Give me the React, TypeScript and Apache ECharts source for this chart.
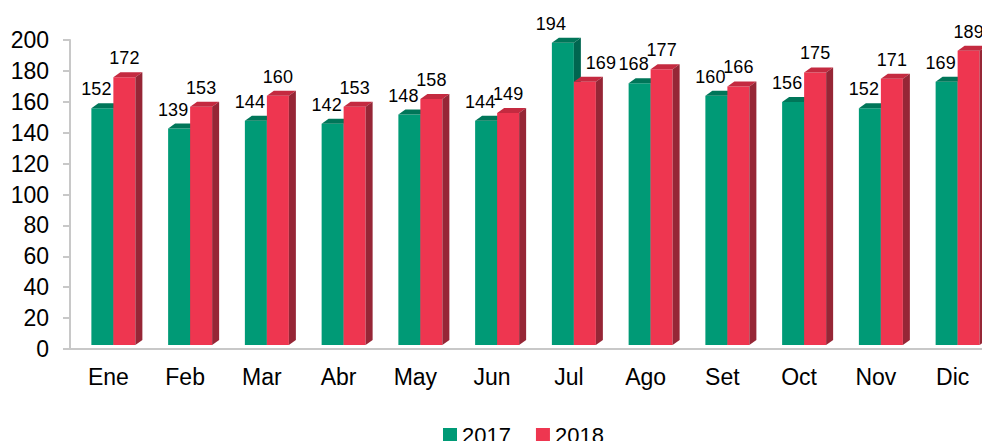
import React, { useEffect, useRef } from "react";
import * as echarts from "echarts";

const months = ["Ene", "Feb", "Mar", "Abr", "May", "Jun", "Jul", "Ago", "Set", "Oct", "Nov", "Dic"];
const values2017 = [152, 139, 144, 142, 148, 144, 194, 168, 160, 156, 152, 169];
const values2018 = [172, 153, 160, 153, 158, 149, 169, 177, 166, 175, 171, 189];
const seriesNames = ["2017", "2018"];

const FONT = "'Liberation Sans', Arial, sans-serif";
const PAL = [
  { front: "#009A76", top: "#007659", side: "#006650" },
  { front: "#EE3650", top: "#C42A40", side: "#962636" },
];

function makeRender(si: number) {
  return (params: any, api: any) => {
    const idx = api.value(0);
    const v = api.value(1);
    const base = api.coord([idx, 0]);
    const tp = api.coord([idx, v]);
    const cx = base[0];
    const w = 22;
    const dx = 7;
    const dy = -5;
    const x0 = cx + (si === 0 ? -17 : 5);
    const x1 = x0 + w;
    const yb = base[1] - 4;
    const yt = yb - (base[1] - tp[1]) * 1.008;
    const c = PAL[si];
    const greenTaller = values2017[idx] > values2018[idx];
    let lx = x0 + w / 2 + (si === 0 ? -6 : 0);
    if (greenTaller) lx = x0 + w / 2 + (si === 0 ? -12 : 16);
    return {
      type: "group",
      children: [
        {
          type: "polygon",
          shape: { points: [[x0, yb], [x1, yb], [x1, yt], [x0, yt]] },
          style: { fill: c.front },
        },
        {
          type: "polygon",
          shape: { points: [[x0, yt], [x1, yt], [x1 + dx, yt + dy], [x0 + dx, yt + dy]] },
          style: { fill: c.top },
        },
        {
          type: "polygon",
          shape: { points: [[x1, yb], [x1 + dx, yb + dy], [x1 + dx, yt + dy], [x1, yt]] },
          style: { fill: c.side },
        },
        {
          type: "text",
          x: lx,
          y: yt - 19,
          style: {
            text: String(v),
            fill: "#000",
            font: `18px ${FONT}`,
            align: "center",
            verticalAlign: "middle",
          },
        },
      ],
    };
  };
}

export default function App() {
  const ref = useRef<HTMLDivElement>(null);
  useEffect(() => {
    if (!ref.current) return;
    const chart = echarts.init(ref.current, undefined, { renderer: "svg" });
    const mk = (si: number, vals: number[]) => ({
      type: "custom",
      name: seriesNames[si],
      renderItem: makeRender(si),
      encode: { x: 0, y: 1 },
      data: vals.map((v, i) => [i, v]),
      itemStyle: { color: PAL[si].front },
      clip: false,
    });
    chart.setOption({
      animation: false,
      color: [PAL[0].front, PAL[1].front],
      textStyle: { fontFamily: FONT },
      grid: { left: 70, top: 40, width: 921, height: 309, containLabel: false, outerBoundsMode: "none" },
      legend: {
        left: 438,
        top: 419,
        icon: "rect",
        itemWidth: 14,
        itemHeight: 14,
        itemGap: 25,
        textStyle: { fontSize: 22, color: "#000", fontFamily: FONT },
        data: seriesNames,
      },
      xAxis: {
        type: "category",
        data: months,
        axisLine: { lineStyle: { color: "#C8C8C8", width: 2 } },
        axisTick: { alignWithLabel: true, length: 4, lineStyle: { color: "#C8C8C8", width: 2 } },
        axisLabel: { fontSize: 23, color: "#000", margin: 16, fontFamily: FONT, interval: 0 },
      },
      yAxis: {
        type: "value",
        min: 0,
        max: 200,
        interval: 20,
        axisLine: { show: true, lineStyle: { color: "#C8C8C8", width: 2 } },
        axisTick: { show: true, length: 7, lineStyle: { color: "#C8C8C8", width: 2 } },
        splitLine: { show: false },
        axisLabel: { fontSize: 23, color: "#000", margin: 21, fontFamily: FONT },
      },
      series: [mk(0, values2017), mk(1, values2018)],
    });
    return () => chart.dispose();
  }, []);
  return <div ref={ref} style={{ position: "absolute", left: 0, top: 0, width: 982, height: 441 }} />;
}
